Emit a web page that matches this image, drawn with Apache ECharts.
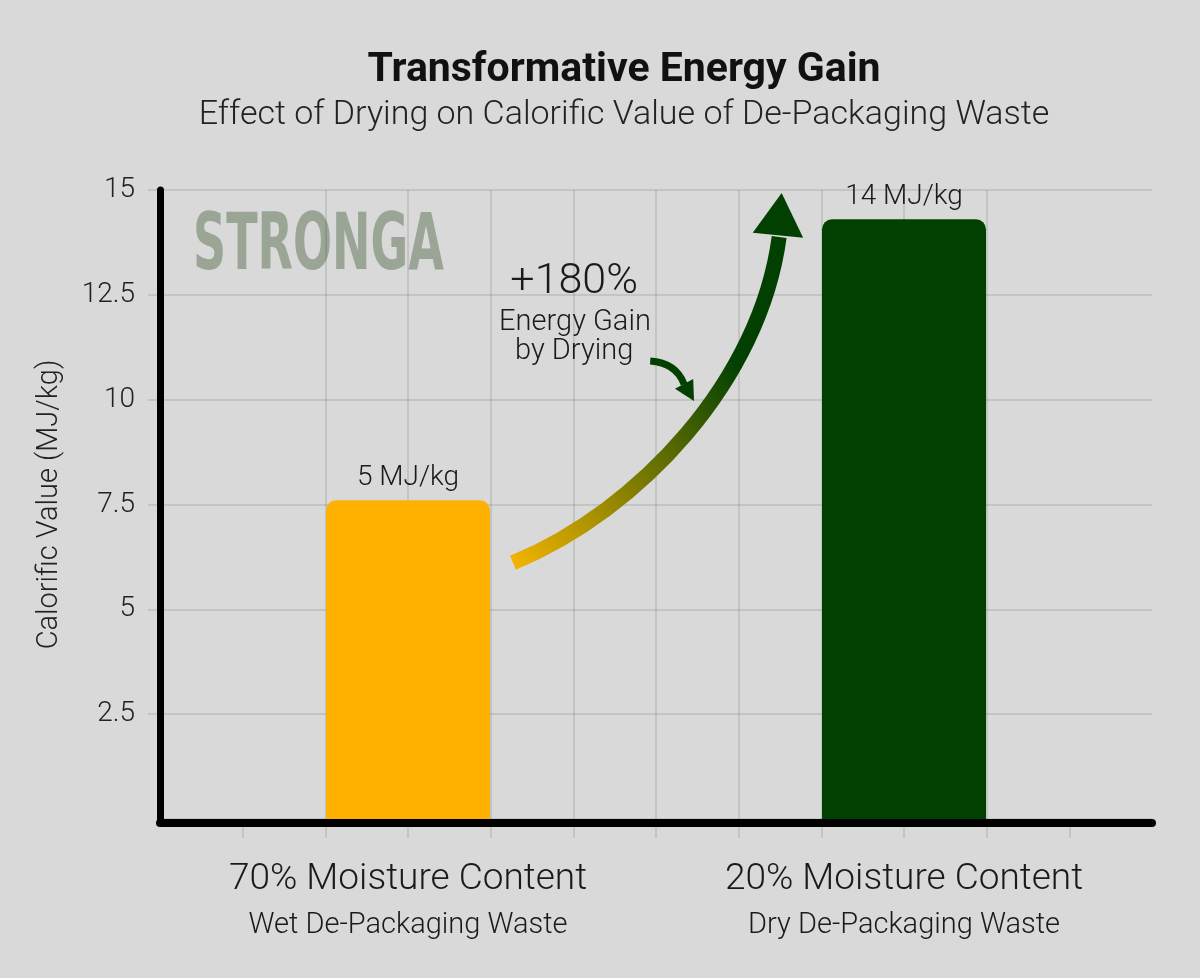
<!DOCTYPE html>
<html lang="en">
<head>
    <meta charset="UTF-8">
    <title>Transformative Energy Gain</title>
    <script src="https://cdn.jsdelivr.net/npm/echarts@6/dist/echarts.min.js"></script>
    <style>
        html, body { margin: 0; padding: 0; background: #d9d9d9; }
        #chart { width: 1200px; height: 978px; }
    </style>
</head>
<body>
    <div id="chart"></div>
    <script>
        // chart data
        var categories = ['70% Moisture Content', '20% Moisture Content'];
        var subLabels = ['Wet De-Packaging Waste', 'Dry De-Packaging Waste'];
        var barValues = [7.6, 14.3];
        var barLabels = ['5 MJ/kg', '14 MJ/kg'];
        var yTicks = [2.5, 5, 7.5, 10, 12.5, 15];
        var gridSteps = [1, 2, 3, 4, 5, 6, 7, 8, 9, 10, 11];

        var barColors = ['#ffb100', '#024002'];
        var gridColor = 'rgba(0,0,0,0.13)';
        var font = 'Roboto';

        var chart = echarts.init(document.getElementById('chart'));

        chart.setOption({
            backgroundColor: '#d9d9d9',
            textStyle: { fontFamily: font },
            title: {
                text: 'Transformative Energy Gain',
                subtext: 'Effect of Drying on Calorific Value of De-Packaging Waste',
                left: 619,
                top: 45,
                textAlign: 'center',
                itemGap: 7,
                textStyle: { fontFamily: font, fontSize: 41, fontWeight: 'bold', color: '#111' },
                subtextStyle: { fontFamily: font, fontSize: 34, fontWeight: 300, color: '#222' }
            },
            grid: { left: 160, right: 48, top: 190, bottom: 159 },
            xAxis: [{
                type: 'category',
                data: categories,
                position: 'bottom',
                offset: 4,
                axisLine: { onZero: false, lineStyle: { color: '#000', width: 8, cap: 'round' } },
                axisTick: { show: false },
                splitLine: { show: false },
                axisLabel: {
                    margin: 33,
                    formatter: function (v, i) {
                        return '{a|' + v + '}\n{b|' + subLabels[i] + '}';
                    },
                    rich: {
                        a: { fontFamily: font, fontSize: 37, fontWeight: 300, lineHeight: 48, color: '#1a1a1a' },
                        b: { fontFamily: font, fontSize: 29, fontWeight: 300, lineHeight: 44, color: '#1a1a1a' }
                    }
                }
            }, {
                // hidden helper axis, only for the vertical grid lines
                type: 'value',
                min: 0,
                max: 12,
                interval: 1,
                position: 'bottom',
                axisLine: { show: false },
                axisLabel: { show: false },
                axisTick: { show: true, length: 19, customValues: gridSteps, lineStyle: { color: gridColor, width: 1.5 } },
                splitLine: { show: true, showMinLine: false, showMaxLine: false, lineStyle: { color: gridColor, width: 1.5 } }
            }],
            yAxis: {
                type: 'value',
                min: 0,
                max: 15,
                interval: 2.5,
                name: 'Calorific Value (MJ/kg)',
                nameLocation: 'middle',
                nameGap: 96,
                nameTextStyle: { fontFamily: font, fontSize: 29, fontWeight: 300, color: '#222' },
                axisLine: { show: true, lineStyle: { color: '#000', width: 7, cap: 'round' } },
                axisTick: { show: true, length: 12, lineStyle: { color: gridColor, width: 1.5 } },
                axisLabel: {
                    showMinLabel: false,
                    margin: 25,
                    fontFamily: font,
                    fontSize: 28,
                    fontWeight: 300,
                    color: '#222',
                    formatter: function (v) { return yTicks.indexOf(v) >= 0 ? String(v) : ''; }
                },
                splitLine: { show: true, lineStyle: { color: gridColor, width: 1.5 } }
            },
            series: [{
                type: 'bar',
                xAxisIndex: 0,
                yAxisIndex: 0,
                data: barValues,
                barWidth: 164,
                itemStyle: {
                    borderRadius: [10, 10, 0, 0],
                    color: function (p) { return barColors[p.dataIndex]; }
                },
                label: {
                    show: true,
                    position: 'top',
                    distance: 8,
                    fontFamily: font,
                    fontSize: 28,
                    fontWeight: 300,
                    color: '#1a1a1a',
                    formatter: function (p) { return barLabels[p.dataIndex]; }
                }
            }]
        });

        // annotation geometry, in axis units (x: helper axis 0-12, y: MJ/kg)
        function toPx(p) {
            return chart.convertToPixel({ xAxisIndex: 1, yAxisIndex: 0 }, p);
        }
        var bigArrow = { from: [4.27, 6.11], c1: [5.81, 7.37], c2: [7.26, 10.47], to: [7.49, 13.88] };
        var bigHead = [[7.52, 14.93], [7.17, 13.98], [7.78, 13.86]];
        var smallArrow = { from: [5.93, 10.92], c: [6.24, 10.88], to: [6.34, 10.37] };
        var smallHead = [[6.46, 9.97], [6.23, 10.26], [6.45, 10.49]];

        var a0 = toPx(bigArrow.from), a1 = toPx(bigArrow.c1), a2 = toPx(bigArrow.c2), a3 = toPx(bigArrow.to);
        var g1 = toPx([4.27, 6.11]), g2 = toPx([7.0, 10.8]);
        var s0 = toPx(smallArrow.from), s1 = toPx(smallArrow.c), s2 = toPx(smallArrow.to);
        var darkGreen = '#024002';

        function note(pos, text, size) {
            var p = toPx(pos);
            return {
                type: 'text', x: p[0], y: p[1], z: 10,
                style: {
                    text: text, fill: '#1a1a1a',
                    font: '300 ' + size + 'px ' + font,
                    textAlign: 'center', textVerticalAlign: 'middle'
                }
            };
        }

        var wm = toPx([0.4, 13.6]);

        chart.setOption({
            graphic: [
                {
                    // watermark
                    type: 'text', x: wm[0], y: wm[1], scaleX: 0.655, z: -1,
                    style: {
                        text: 'STRONGA', fill: '#9aa596',
                        font: 'bold 78px "DejaVu Sans Condensed"',
                        textAlign: 'left', textVerticalAlign: 'middle'
                    }
                },
                {
                    type: 'bezierCurve', z: 10,
                    shape: { x1: a0[0], y1: a0[1], cpx1: a1[0], cpy1: a1[1], cpx2: a2[0], cpy2: a2[1], x2: a3[0], y2: a3[1] },
                    style: {
                        fill: null, lineWidth: 15, lineCap: 'butt',
                        stroke: new echarts.graphic.LinearGradient(g1[0], g1[1], g2[0], g2[1], [
                            { offset: 0, color: '#f2b400' },
                            { offset: 1, color: darkGreen }
                        ], true)
                    }
                },
                {
                    type: 'polygon', z: 10,
                    shape: { points: bigHead.map(toPx) },
                    style: { fill: darkGreen }
                },
                {
                    type: 'bezierCurve', z: 10,
                    shape: { x1: s0[0], y1: s0[1], cpx1: s1[0], cpy1: s1[1], x2: s2[0], y2: s2[1] },
                    style: { fill: null, stroke: darkGreen, lineWidth: 7 }
                },
                {
                    type: 'polygon', z: 10,
                    shape: { points: smallHead.map(toPx) },
                    style: { fill: darkGreen }
                },
                note([5.01, 12.81], '+180%', 43),
                note([5.02, 11.83], 'Energy Gain', 29),
                note([5.01, 11.14], 'by Drying', 29)
            ]
        });
    </script>
</body>
</html>
